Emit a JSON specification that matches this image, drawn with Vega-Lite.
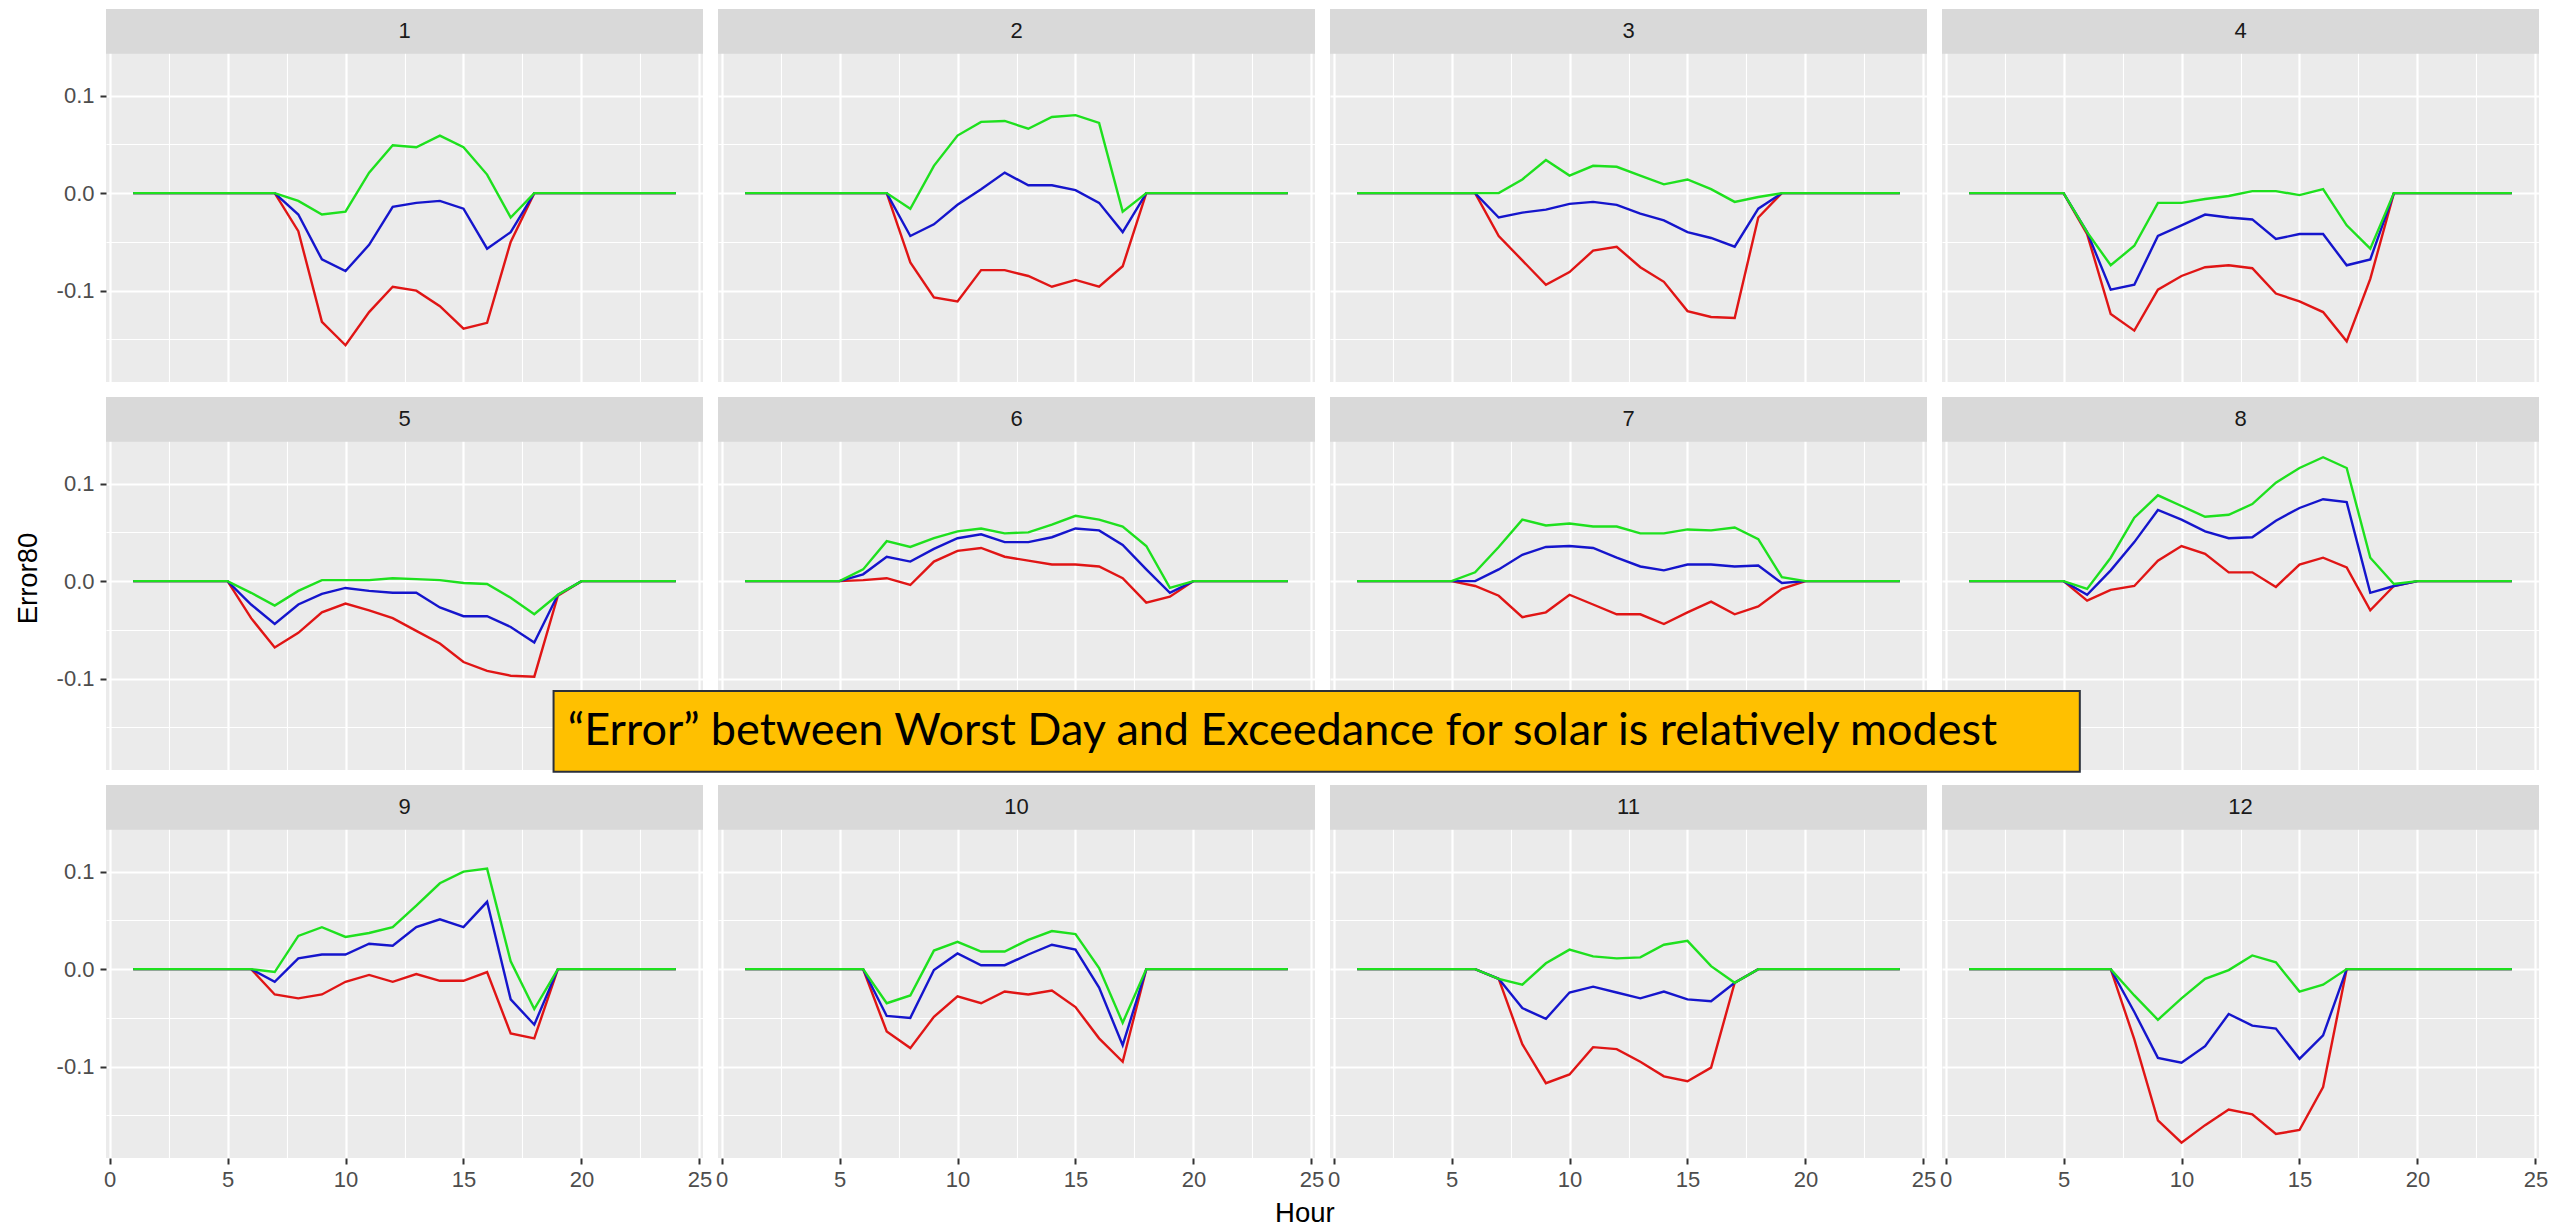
{
  "$schema": "https://vega.github.io/schema/vega-lite/v6.json",
  "padding": {"left": 14, "top": 9, "right": 0, "bottom": 0},
  "background": "white",
  "title": {"text": "Hour", "orient": "bottom", "anchor": "middle", "font": "Liberation Sans", "fontSize": 27.5, "fontWeight": "normal", "color": "#000000", "offset": 10, "dx": 24},
  "datasets": {
    "err": [
      {"m":1,"h":1,"r":0,"b":0,"g":0},{"m":1,"h":2,"r":0,"b":0,"g":0},{"m":1,"h":3,"r":0,"b":0,"g":0},{"m":1,"h":4,"r":0,"b":0,"g":0},{"m":1,"h":5,"r":0,"b":0,"g":0},{"m":1,"h":6,"r":0,"b":0,"g":0},{"m":1,"h":7,"r":0,"b":0,"g":0},
      {"m":1,"h":8,"r":-0.039,"b":-0.022,"g":-0.008},{"m":1,"h":9,"r":-0.132,"b":-0.068,"g":-0.022},{"m":1,"h":10,"r":-0.156,"b":-0.080,"g":-0.019},{"m":1,"h":11,"r":-0.122,"b":-0.053,"g":0.021},{"m":1,"h":12,"r":-0.096,"b":-0.014,"g":0.049},{"m":1,"h":13,"r":-0.100,"b":-0.010,"g":0.047},{"m":1,"h":14,"r":-0.116,"b":-0.008,"g":0.059},{"m":1,"h":15,"r":-0.139,"b":-0.016,"g":0.047},{"m":1,"h":16,"r":-0.133,"b":-0.057,"g":0.019},{"m":1,"h":17,"r":-0.050,"b":-0.040,"g":-0.025},
      {"m":1,"h":18,"r":0,"b":0,"g":0},{"m":1,"h":19,"r":0,"b":0,"g":0},{"m":1,"h":20,"r":0,"b":0,"g":0},{"m":1,"h":21,"r":0,"b":0,"g":0},{"m":1,"h":22,"r":0,"b":0,"g":0},{"m":1,"h":23,"r":0,"b":0,"g":0},{"m":1,"h":24,"r":0,"b":0,"g":0},

      {"m":2,"h":1,"r":0,"b":0,"g":0},{"m":2,"h":2,"r":0,"b":0,"g":0},{"m":2,"h":3,"r":0,"b":0,"g":0},{"m":2,"h":4,"r":0,"b":0,"g":0},{"m":2,"h":5,"r":0,"b":0,"g":0},{"m":2,"h":6,"r":0,"b":0,"g":0},{"m":2,"h":7,"r":0,"b":0,"g":0},
      {"m":2,"h":8,"r":-0.071,"b":-0.044,"g":-0.016},{"m":2,"h":9,"r":-0.107,"b":-0.032,"g":0.028},{"m":2,"h":10,"r":-0.111,"b":-0.012,"g":0.059},{"m":2,"h":11,"r":-0.079,"b":0.004,"g":0.073},{"m":2,"h":12,"r":-0.079,"b":0.021,"g":0.074},{"m":2,"h":13,"r":-0.085,"b":0.008,"g":0.066},{"m":2,"h":14,"r":-0.096,"b":0.008,"g":0.078},{"m":2,"h":15,"r":-0.089,"b":0.003,"g":0.080},{"m":2,"h":16,"r":-0.096,"b":-0.010,"g":0.072},{"m":2,"h":17,"r":-0.075,"b":-0.040,"g":-0.019},
      {"m":2,"h":18,"r":0,"b":0,"g":0},{"m":2,"h":19,"r":0,"b":0,"g":0},{"m":2,"h":20,"r":0,"b":0,"g":0},{"m":2,"h":21,"r":0,"b":0,"g":0},{"m":2,"h":22,"r":0,"b":0,"g":0},{"m":2,"h":23,"r":0,"b":0,"g":0},{"m":2,"h":24,"r":0,"b":0,"g":0},

      {"m":3,"h":1,"r":0,"b":0,"g":0},{"m":3,"h":2,"r":0,"b":0,"g":0},{"m":3,"h":3,"r":0,"b":0,"g":0},{"m":3,"h":4,"r":0,"b":0,"g":0},{"m":3,"h":5,"r":0,"b":0,"g":0},{"m":3,"h":6,"r":0,"b":0,"g":0},
      {"m":3,"h":7,"r":-0.044,"b":-0.025,"g":0},{"m":3,"h":8,"r":-0.069,"b":-0.020,"g":0.014},{"m":3,"h":9,"r":-0.094,"b":-0.017,"g":0.034},{"m":3,"h":10,"r":-0.081,"b":-0.011,"g":0.018},{"m":3,"h":11,"r":-0.059,"b":-0.009,"g":0.028},{"m":3,"h":12,"r":-0.055,"b":-0.012,"g":0.027},{"m":3,"h":13,"r":-0.076,"b":-0.021,"g":0.018},{"m":3,"h":14,"r":-0.091,"b":-0.028,"g":0.009},{"m":3,"h":15,"r":-0.121,"b":-0.040,"g":0.014},{"m":3,"h":16,"r":-0.127,"b":-0.046,"g":0.004},{"m":3,"h":17,"r":-0.128,"b":-0.055,"g":-0.009},{"m":3,"h":18,"r":-0.025,"b":-0.016,"g":-0.004},
      {"m":3,"h":19,"r":0,"b":0,"g":0},{"m":3,"h":20,"r":0,"b":0,"g":0},{"m":3,"h":21,"r":0,"b":0,"g":0},{"m":3,"h":22,"r":0,"b":0,"g":0},{"m":3,"h":23,"r":0,"b":0,"g":0},{"m":3,"h":24,"r":0,"b":0,"g":0},

      {"m":4,"h":1,"r":0,"b":0,"g":0},{"m":4,"h":2,"r":0,"b":0,"g":0},{"m":4,"h":3,"r":0,"b":0,"g":0},{"m":4,"h":4,"r":0,"b":0,"g":0},{"m":4,"h":5,"r":0,"b":0,"g":0},
      {"m":4,"h":6,"r":-0.042,"b":-0.040,"g":-0.040},{"m":4,"h":7,"r":-0.124,"b":-0.099,"g":-0.074},{"m":4,"h":8,"r":-0.141,"b":-0.094,"g":-0.054},{"m":4,"h":9,"r":-0.099,"b":-0.044,"g":-0.010},{"m":4,"h":10,"r":-0.085,"b":-0.033,"g":-0.010},{"m":4,"h":11,"r":-0.076,"b":-0.022,"g":-0.006},{"m":4,"h":12,"r":-0.074,"b":-0.025,"g":-0.003},{"m":4,"h":13,"r":-0.077,"b":-0.027,"g":0.002},{"m":4,"h":14,"r":-0.103,"b":-0.047,"g":0.002},{"m":4,"h":15,"r":-0.111,"b":-0.042,"g":-0.002},{"m":4,"h":16,"r":-0.122,"b":-0.042,"g":0.004},{"m":4,"h":17,"r":-0.152,"b":-0.074,"g":-0.033},{"m":4,"h":18,"r":-0.088,"b":-0.068,"g":-0.057},
      {"m":4,"h":19,"r":0,"b":0,"g":0},{"m":4,"h":20,"r":0,"b":0,"g":0},{"m":4,"h":21,"r":0,"b":0,"g":0},{"m":4,"h":22,"r":0,"b":0,"g":0},{"m":4,"h":23,"r":0,"b":0,"g":0},{"m":4,"h":24,"r":0,"b":0,"g":0},

      {"m":5,"h":1,"r":0,"b":0,"g":0},{"m":5,"h":2,"r":0,"b":0,"g":0},{"m":5,"h":3,"r":0,"b":0,"g":0},{"m":5,"h":4,"r":0,"b":0,"g":0},{"m":5,"h":5,"r":0,"b":0,"g":0},
      {"m":5,"h":6,"r":-0.038,"b":-0.024,"g":-0.012},{"m":5,"h":7,"r":-0.068,"b":-0.044,"g":-0.025},{"m":5,"h":8,"r":-0.053,"b":-0.024,"g":-0.010},{"m":5,"h":9,"r":-0.032,"b":-0.013,"g":0.001},{"m":5,"h":10,"r":-0.023,"b":-0.007,"g":0.001},{"m":5,"h":11,"r":-0.030,"b":-0.010,"g":0.001},{"m":5,"h":12,"r":-0.038,"b":-0.012,"g":0.003},{"m":5,"h":13,"r":-0.051,"b":-0.012,"g":0.002},{"m":5,"h":14,"r":-0.064,"b":-0.027,"g":0.001},{"m":5,"h":15,"r":-0.083,"b":-0.036,"g":-0.002},{"m":5,"h":16,"r":-0.092,"b":-0.036,"g":-0.003},{"m":5,"h":17,"r":-0.097,"b":-0.047,"g":-0.017},{"m":5,"h":18,"r":-0.098,"b":-0.063,"g":-0.034},{"m":5,"h":19,"r":-0.015,"b":-0.014,"g":-0.014},
      {"m":5,"h":20,"r":0,"b":0,"g":0},{"m":5,"h":21,"r":0,"b":0,"g":0},{"m":5,"h":22,"r":0,"b":0,"g":0},{"m":5,"h":23,"r":0,"b":0,"g":0},{"m":5,"h":24,"r":0,"b":0,"g":0},

      {"m":6,"h":1,"r":0,"b":0,"g":0},{"m":6,"h":2,"r":0,"b":0,"g":0},{"m":6,"h":3,"r":0,"b":0,"g":0},{"m":6,"h":4,"r":0,"b":0,"g":0},{"m":6,"h":5,"r":0,"b":0,"g":0},
      {"m":6,"h":6,"r":0.001,"b":0.007,"g":0.012},{"m":6,"h":7,"r":0.003,"b":0.025,"g":0.041},{"m":6,"h":8,"r":-0.004,"b":0.020,"g":0.035},{"m":6,"h":9,"r":0.020,"b":0.033,"g":0.044},{"m":6,"h":10,"r":0.031,"b":0.044,"g":0.051},{"m":6,"h":11,"r":0.034,"b":0.048,"g":0.054},{"m":6,"h":12,"r":0.025,"b":0.040,"g":0.049},{"m":6,"h":13,"r":0.021,"b":0.040,"g":0.050},{"m":6,"h":14,"r":0.017,"b":0.045,"g":0.058},{"m":6,"h":15,"r":0.017,"b":0.054,"g":0.067},{"m":6,"h":16,"r":0.015,"b":0.052,"g":0.063},{"m":6,"h":17,"r":0.003,"b":0.037,"g":0.056},{"m":6,"h":18,"r":-0.022,"b":0.012,"g":0.036},{"m":6,"h":19,"r":-0.016,"b":-0.012,"g":-0.007},
      {"m":6,"h":20,"r":0,"b":0,"g":0},{"m":6,"h":21,"r":0,"b":0,"g":0},{"m":6,"h":22,"r":0,"b":0,"g":0},{"m":6,"h":23,"r":0,"b":0,"g":0},{"m":6,"h":24,"r":0,"b":0,"g":0},

      {"m":7,"h":1,"r":0,"b":0,"g":0},{"m":7,"h":2,"r":0,"b":0,"g":0},{"m":7,"h":3,"r":0,"b":0,"g":0},{"m":7,"h":4,"r":0,"b":0,"g":0},{"m":7,"h":5,"r":0,"b":0,"g":0},
      {"m":7,"h":6,"r":-0.005,"b":0,"g":0.009},{"m":7,"h":7,"r":-0.015,"b":0.012,"g":0.035},{"m":7,"h":8,"r":-0.037,"b":0.027,"g":0.063},{"m":7,"h":9,"r":-0.032,"b":0.035,"g":0.057},{"m":7,"h":10,"r":-0.014,"b":0.036,"g":0.059},{"m":7,"h":11,"r":-0.024,"b":0.034,"g":0.056},{"m":7,"h":12,"r":-0.034,"b":0.024,"g":0.056},{"m":7,"h":13,"r":-0.034,"b":0.015,"g":0.049},{"m":7,"h":14,"r":-0.044,"b":0.011,"g":0.049},{"m":7,"h":15,"r":-0.032,"b":0.017,"g":0.053},{"m":7,"h":16,"r":-0.021,"b":0.017,"g":0.052},{"m":7,"h":17,"r":-0.034,"b":0.015,"g":0.055},{"m":7,"h":18,"r":-0.026,"b":0.016,"g":0.043},{"m":7,"h":19,"r":-0.008,"b":-0.002,"g":0.004},
      {"m":7,"h":20,"r":0,"b":0,"g":0},{"m":7,"h":21,"r":0,"b":0,"g":0},{"m":7,"h":22,"r":0,"b":0,"g":0},{"m":7,"h":23,"r":0,"b":0,"g":0},{"m":7,"h":24,"r":0,"b":0,"g":0},

      {"m":8,"h":1,"r":0,"b":0,"g":0},{"m":8,"h":2,"r":0,"b":0,"g":0},{"m":8,"h":3,"r":0,"b":0,"g":0},{"m":8,"h":4,"r":0,"b":0,"g":0},{"m":8,"h":5,"r":0,"b":0,"g":0},
      {"m":8,"h":6,"r":-0.020,"b":-0.014,"g":-0.008},{"m":8,"h":7,"r":-0.009,"b":0.011,"g":0.024},{"m":8,"h":8,"r":-0.005,"b":0.040,"g":0.065},{"m":8,"h":9,"r":0.021,"b":0.073,"g":0.088},{"m":8,"h":10,"r":0.036,"b":0.063,"g":0.077},{"m":8,"h":11,"r":0.028,"b":0.051,"g":0.066},{"m":8,"h":12,"r":0.009,"b":0.044,"g":0.068},{"m":8,"h":13,"r":0.009,"b":0.045,"g":0.079},{"m":8,"h":14,"r":-0.006,"b":0.062,"g":0.101},{"m":8,"h":15,"r":0.017,"b":0.075,"g":0.116},{"m":8,"h":16,"r":0.024,"b":0.084,"g":0.127},{"m":8,"h":17,"r":0.014,"b":0.081,"g":0.116},{"m":8,"h":18,"r":-0.030,"b":-0.012,"g":0.024},{"m":8,"h":19,"r":-0.005,"b":-0.005,"g":-0.003},
      {"m":8,"h":20,"r":0,"b":0,"g":0},{"m":8,"h":21,"r":0,"b":0,"g":0},{"m":8,"h":22,"r":0,"b":0,"g":0},{"m":8,"h":23,"r":0,"b":0,"g":0},{"m":8,"h":24,"r":0,"b":0,"g":0},

      {"m":9,"h":1,"r":0,"b":0,"g":0},{"m":9,"h":2,"r":0,"b":0,"g":0},{"m":9,"h":3,"r":0,"b":0,"g":0},{"m":9,"h":4,"r":0,"b":0,"g":0},{"m":9,"h":5,"r":0,"b":0,"g":0},{"m":9,"h":6,"r":0,"b":0,"g":0},
      {"m":9,"h":7,"r":-0.026,"b":-0.013,"g":-0.003},{"m":9,"h":8,"r":-0.030,"b":0.011,"g":0.034},{"m":9,"h":9,"r":-0.026,"b":0.015,"g":0.043},{"m":9,"h":10,"r":-0.013,"b":0.015,"g":0.033},{"m":9,"h":11,"r":-0.006,"b":0.026,"g":0.037},{"m":9,"h":12,"r":-0.013,"b":0.024,"g":0.043},{"m":9,"h":13,"r":-0.005,"b":0.043,"g":0.065},{"m":9,"h":14,"r":-0.012,"b":0.051,"g":0.088},{"m":9,"h":15,"r":-0.012,"b":0.043,"g":0.100},{"m":9,"h":16,"r":-0.003,"b":0.069,"g":0.103},{"m":9,"h":17,"r":-0.066,"b":-0.031,"g":0.008},{"m":9,"h":18,"r":-0.071,"b":-0.057,"g":-0.041},
      {"m":9,"h":19,"r":0,"b":0,"g":0},{"m":9,"h":20,"r":0,"b":0,"g":0},{"m":9,"h":21,"r":0,"b":0,"g":0},{"m":9,"h":22,"r":0,"b":0,"g":0},{"m":9,"h":23,"r":0,"b":0,"g":0},{"m":9,"h":24,"r":0,"b":0,"g":0},

      {"m":10,"h":1,"r":0,"b":0,"g":0},{"m":10,"h":2,"r":0,"b":0,"g":0},{"m":10,"h":3,"r":0,"b":0,"g":0},{"m":10,"h":4,"r":0,"b":0,"g":0},{"m":10,"h":5,"r":0,"b":0,"g":0},{"m":10,"h":6,"r":0,"b":0,"g":0},
      {"m":10,"h":7,"r":-0.064,"b":-0.048,"g":-0.035},{"m":10,"h":8,"r":-0.081,"b":-0.050,"g":-0.027},{"m":10,"h":9,"r":-0.049,"b":-0.001,"g":0.019},{"m":10,"h":10,"r":-0.028,"b":0.016,"g":0.028},{"m":10,"h":11,"r":-0.035,"b":0.004,"g":0.018},{"m":10,"h":12,"r":-0.023,"b":0.004,"g":0.018},{"m":10,"h":13,"r":-0.026,"b":0.015,"g":0.030},{"m":10,"h":14,"r":-0.022,"b":0.025,"g":0.039},{"m":10,"h":15,"r":-0.039,"b":0.020,"g":0.036},{"m":10,"h":16,"r":-0.071,"b":-0.019,"g":0.001},{"m":10,"h":17,"r":-0.095,"b":-0.078,"g":-0.055},
      {"m":10,"h":18,"r":0,"b":0,"g":0},{"m":10,"h":19,"r":0,"b":0,"g":0},{"m":10,"h":20,"r":0,"b":0,"g":0},{"m":10,"h":21,"r":0,"b":0,"g":0},{"m":10,"h":22,"r":0,"b":0,"g":0},{"m":10,"h":23,"r":0,"b":0,"g":0},{"m":10,"h":24,"r":0,"b":0,"g":0},

      {"m":11,"h":1,"r":0,"b":0,"g":0},{"m":11,"h":2,"r":0,"b":0,"g":0},{"m":11,"h":3,"r":0,"b":0,"g":0},{"m":11,"h":4,"r":0,"b":0,"g":0},{"m":11,"h":5,"r":0,"b":0,"g":0},{"m":11,"h":6,"r":0,"b":0,"g":0},
      {"m":11,"h":7,"r":-0.010,"b":-0.010,"g":-0.010},{"m":11,"h":8,"r":-0.077,"b":-0.040,"g":-0.016},{"m":11,"h":9,"r":-0.117,"b":-0.051,"g":0.006},{"m":11,"h":10,"r":-0.108,"b":-0.024,"g":0.020},{"m":11,"h":11,"r":-0.080,"b":-0.018,"g":0.013},{"m":11,"h":12,"r":-0.082,"b":-0.024,"g":0.011},{"m":11,"h":13,"r":-0.095,"b":-0.030,"g":0.012},{"m":11,"h":14,"r":-0.110,"b":-0.023,"g":0.025},{"m":11,"h":15,"r":-0.115,"b":-0.031,"g":0.029},{"m":11,"h":16,"r":-0.101,"b":-0.033,"g":0.003},{"m":11,"h":17,"r":-0.014,"b":-0.014,"g":-0.014},
      {"m":11,"h":18,"r":0,"b":0,"g":0},{"m":11,"h":19,"r":0,"b":0,"g":0},{"m":11,"h":20,"r":0,"b":0,"g":0},{"m":11,"h":21,"r":0,"b":0,"g":0},{"m":11,"h":22,"r":0,"b":0,"g":0},{"m":11,"h":23,"r":0,"b":0,"g":0},{"m":11,"h":24,"r":0,"b":0,"g":0},

      {"m":12,"h":1,"r":0,"b":0,"g":0},{"m":12,"h":2,"r":0,"b":0,"g":0},{"m":12,"h":3,"r":0,"b":0,"g":0},{"m":12,"h":4,"r":0,"b":0,"g":0},{"m":12,"h":5,"r":0,"b":0,"g":0},{"m":12,"h":6,"r":0,"b":0,"g":0},{"m":12,"h":7,"r":0,"b":0,"g":0},
      {"m":12,"h":8,"r":-0.072,"b":-0.044,"g":-0.027},{"m":12,"h":9,"r":-0.155,"b":-0.091,"g":-0.052},{"m":12,"h":10,"r":-0.178,"b":-0.096,"g":-0.030},{"m":12,"h":11,"r":-0.160,"b":-0.079,"g":-0.010},{"m":12,"h":12,"r":-0.144,"b":-0.046,"g":-0.001},{"m":12,"h":13,"r":-0.149,"b":-0.058,"g":0.014},{"m":12,"h":14,"r":-0.169,"b":-0.061,"g":0.007},{"m":12,"h":15,"r":-0.165,"b":-0.092,"g":-0.023},{"m":12,"h":16,"r":-0.121,"b":-0.068,"g":-0.016},
      {"m":12,"h":17,"r":0,"b":0,"g":0},{"m":12,"h":18,"r":0,"b":0,"g":0},{"m":12,"h":19,"r":0,"b":0,"g":0},{"m":12,"h":20,"r":0,"b":0,"g":0},{"m":12,"h":21,"r":0,"b":0,"g":0},{"m":12,"h":22,"r":0,"b":0,"g":0},{"m":12,"h":23,"r":0,"b":0,"g":0},{"m":12,"h":24,"r":0,"b":0,"g":0}
    ]
  },
  "data": {"name": "err"},
  "columns": 4,
  "spacing": {"row": 15, "column": 15},
  "bounds": "flush",
  "concat": [
    {"width":597,"height":373,"transform":[{"filter":"datum.m==1"}],"layer":[
      {"transform":[{"fold":["r","b","g"],"as":["s","v"]}],"mark":{"type":"line"},"encoding":{
        "x":{"field":"h","type":"quantitative","scale":{"domain":[-0.15,25.15],"nice":false,"zero":false},"axis":{"values":[0,2.5,5,7.5,10,12.5,15,17.5,20,22.5,25],"labels":false,"ticks":false,"title":null,"gridWidth":{"condition":{"test":"datum.value % 5 === 0","value":2.2},"value":1.1}}},
        "y":{"field":"v","type":"quantitative","scale":{"domain":[-0.1937,0.1888],"nice":false,"zero":false},"axis":{"values":[-0.15,-0.1,-0.05,0,0.05,0.1],"title":null,"gridWidth":{"condition":{"test":"round(abs(datum.value)*100) % 10 === 0","value":2.2},"value":1.1},"tickOpacity":{"condition":{"test":"round(abs(datum.value)*100) % 10 === 0","value":1},"value":0},"labelExpr":"round(abs(datum.value)*100) % 10 === 0 ? replace(format(datum.value, '.1f'), '−', '-') : ''"}},
        "color":{"field":"s","type":"nominal","scale":{"domain":["r","b","g"],"range":["#E01515","#1515CC","#1EE01E"]},"legend":null}}},
      {"transform":[{"filter":"datum.h==1"}],"mark":{"type":"rect","fill":"#D9D9D9"},"encoding":{"x":{"datum":-0.15,"type":"quantitative"},"x2":{"datum":25.15},"y":{"datum":0.1428,"type":"quantitative"},"y2":{"datum":0.1888}}},
      {"transform":[{"filter":"datum.h==1"}],"mark":{"type":"text","font":"Liberation Sans","fontSize":22,"color":"#1A1A1A","baseline":"middle","align":"center"},"encoding":{"x":{"datum":12.5,"type":"quantitative"},"y":{"datum":0.1658,"type":"quantitative"},"text":{"field":"m","type":"nominal"}}}
    ]},
    {"width":597,"height":373,"transform":[{"filter":"datum.m==2"}],"layer":[
      {"transform":[{"fold":["r","b","g"],"as":["s","v"]}],"mark":{"type":"line"},"encoding":{
        "x":{"field":"h","type":"quantitative","scale":{"domain":[-0.15,25.15],"nice":false,"zero":false},"axis":{"values":[0,2.5,5,7.5,10,12.5,15,17.5,20,22.5,25],"labels":false,"ticks":false,"title":null,"gridWidth":{"condition":{"test":"datum.value % 5 === 0","value":2.2},"value":1.1}}},
        "y":{"field":"v","type":"quantitative","scale":{"domain":[-0.1937,0.1888],"nice":false,"zero":false},"axis":{"values":[-0.15,-0.1,-0.05,0,0.05,0.1],"labels":false,"ticks":false,"title":null,"gridWidth":{"condition":{"test":"round(abs(datum.value)*100) % 10 === 0","value":2.2},"value":1.1}}},
        "color":{"field":"s","type":"nominal","scale":{"domain":["r","b","g"],"range":["#E01515","#1515CC","#1EE01E"]},"legend":null}}},
      {"transform":[{"filter":"datum.h==1"}],"mark":{"type":"rect","fill":"#D9D9D9"},"encoding":{"x":{"datum":-0.15,"type":"quantitative"},"x2":{"datum":25.15},"y":{"datum":0.1428,"type":"quantitative"},"y2":{"datum":0.1888}}},
      {"transform":[{"filter":"datum.h==1"}],"mark":{"type":"text","font":"Liberation Sans","fontSize":22,"color":"#1A1A1A","baseline":"middle","align":"center"},"encoding":{"x":{"datum":12.5,"type":"quantitative"},"y":{"datum":0.1658,"type":"quantitative"},"text":{"field":"m","type":"nominal"}}}
    ]},
    {"width":597,"height":373,"transform":[{"filter":"datum.m==3"}],"layer":[
      {"transform":[{"fold":["r","b","g"],"as":["s","v"]}],"mark":{"type":"line"},"encoding":{
        "x":{"field":"h","type":"quantitative","scale":{"domain":[-0.15,25.15],"nice":false,"zero":false},"axis":{"values":[0,2.5,5,7.5,10,12.5,15,17.5,20,22.5,25],"labels":false,"ticks":false,"title":null,"gridWidth":{"condition":{"test":"datum.value % 5 === 0","value":2.2},"value":1.1}}},
        "y":{"field":"v","type":"quantitative","scale":{"domain":[-0.1937,0.1888],"nice":false,"zero":false},"axis":{"values":[-0.15,-0.1,-0.05,0,0.05,0.1],"labels":false,"ticks":false,"title":null,"gridWidth":{"condition":{"test":"round(abs(datum.value)*100) % 10 === 0","value":2.2},"value":1.1}}},
        "color":{"field":"s","type":"nominal","scale":{"domain":["r","b","g"],"range":["#E01515","#1515CC","#1EE01E"]},"legend":null}}},
      {"transform":[{"filter":"datum.h==1"}],"mark":{"type":"rect","fill":"#D9D9D9"},"encoding":{"x":{"datum":-0.15,"type":"quantitative"},"x2":{"datum":25.15},"y":{"datum":0.1428,"type":"quantitative"},"y2":{"datum":0.1888}}},
      {"transform":[{"filter":"datum.h==1"}],"mark":{"type":"text","font":"Liberation Sans","fontSize":22,"color":"#1A1A1A","baseline":"middle","align":"center"},"encoding":{"x":{"datum":12.5,"type":"quantitative"},"y":{"datum":0.1658,"type":"quantitative"},"text":{"field":"m","type":"nominal"}}}
    ]},
    {"width":597,"height":373,"transform":[{"filter":"datum.m==4"}],"layer":[
      {"transform":[{"fold":["r","b","g"],"as":["s","v"]}],"mark":{"type":"line"},"encoding":{
        "x":{"field":"h","type":"quantitative","scale":{"domain":[-0.15,25.15],"nice":false,"zero":false},"axis":{"values":[0,2.5,5,7.5,10,12.5,15,17.5,20,22.5,25],"labels":false,"ticks":false,"title":null,"gridWidth":{"condition":{"test":"datum.value % 5 === 0","value":2.2},"value":1.1}}},
        "y":{"field":"v","type":"quantitative","scale":{"domain":[-0.1937,0.1888],"nice":false,"zero":false},"axis":{"values":[-0.15,-0.1,-0.05,0,0.05,0.1],"labels":false,"ticks":false,"title":null,"gridWidth":{"condition":{"test":"round(abs(datum.value)*100) % 10 === 0","value":2.2},"value":1.1}}},
        "color":{"field":"s","type":"nominal","scale":{"domain":["r","b","g"],"range":["#E01515","#1515CC","#1EE01E"]},"legend":null}}},
      {"transform":[{"filter":"datum.h==1"}],"mark":{"type":"rect","fill":"#D9D9D9"},"encoding":{"x":{"datum":-0.15,"type":"quantitative"},"x2":{"datum":25.15},"y":{"datum":0.1428,"type":"quantitative"},"y2":{"datum":0.1888}}},
      {"transform":[{"filter":"datum.h==1"}],"mark":{"type":"text","font":"Liberation Sans","fontSize":22,"color":"#1A1A1A","baseline":"middle","align":"center"},"encoding":{"x":{"datum":12.5,"type":"quantitative"},"y":{"datum":0.1658,"type":"quantitative"},"text":{"field":"m","type":"nominal"}}}
    ]},
    {"width":597,"height":373,"transform":[{"filter":"datum.m==5"}],"layer":[
      {"transform":[{"fold":["r","b","g"],"as":["s","v"]}],"mark":{"type":"line"},"encoding":{
        "x":{"field":"h","type":"quantitative","scale":{"domain":[-0.15,25.15],"nice":false,"zero":false},"axis":{"values":[0,2.5,5,7.5,10,12.5,15,17.5,20,22.5,25],"labels":false,"ticks":false,"title":null,"gridWidth":{"condition":{"test":"datum.value % 5 === 0","value":2.2},"value":1.1}}},
        "y":{"field":"v","type":"quantitative","scale":{"domain":[-0.1937,0.1888],"nice":false,"zero":false},"axis":{"values":[-0.15,-0.1,-0.05,0,0.05,0.1],"title":"Error80","titleY":181,"titlePadding":14,"gridWidth":{"condition":{"test":"round(abs(datum.value)*100) % 10 === 0","value":2.2},"value":1.1},"tickOpacity":{"condition":{"test":"round(abs(datum.value)*100) % 10 === 0","value":1},"value":0},"labelExpr":"round(abs(datum.value)*100) % 10 === 0 ? replace(format(datum.value, '.1f'), '−', '-') : ''"}},
        "color":{"field":"s","type":"nominal","scale":{"domain":["r","b","g"],"range":["#E01515","#1515CC","#1EE01E"]},"legend":null}}},
      {"transform":[{"filter":"datum.h==1"}],"mark":{"type":"rect","fill":"#D9D9D9"},"encoding":{"x":{"datum":-0.15,"type":"quantitative"},"x2":{"datum":25.15},"y":{"datum":0.1428,"type":"quantitative"},"y2":{"datum":0.1888}}},
      {"transform":[{"filter":"datum.h==1"}],"mark":{"type":"text","font":"Liberation Sans","fontSize":22,"color":"#1A1A1A","baseline":"middle","align":"center"},"encoding":{"x":{"datum":12.5,"type":"quantitative"},"y":{"datum":0.1658,"type":"quantitative"},"text":{"field":"m","type":"nominal"}}}
    ]},
    {"width":597,"height":373,"transform":[{"filter":"datum.m==6"}],"layer":[
      {"transform":[{"fold":["r","b","g"],"as":["s","v"]}],"mark":{"type":"line"},"encoding":{
        "x":{"field":"h","type":"quantitative","scale":{"domain":[-0.15,25.15],"nice":false,"zero":false},"axis":{"values":[0,2.5,5,7.5,10,12.5,15,17.5,20,22.5,25],"labels":false,"ticks":false,"title":null,"gridWidth":{"condition":{"test":"datum.value % 5 === 0","value":2.2},"value":1.1}}},
        "y":{"field":"v","type":"quantitative","scale":{"domain":[-0.1937,0.1888],"nice":false,"zero":false},"axis":{"values":[-0.15,-0.1,-0.05,0,0.05,0.1],"labels":false,"ticks":false,"title":null,"gridWidth":{"condition":{"test":"round(abs(datum.value)*100) % 10 === 0","value":2.2},"value":1.1}}},
        "color":{"field":"s","type":"nominal","scale":{"domain":["r","b","g"],"range":["#E01515","#1515CC","#1EE01E"]},"legend":null}}},
      {"transform":[{"filter":"datum.h==1"}],"mark":{"type":"rect","fill":"#D9D9D9"},"encoding":{"x":{"datum":-0.15,"type":"quantitative"},"x2":{"datum":25.15},"y":{"datum":0.1428,"type":"quantitative"},"y2":{"datum":0.1888}}},
      {"transform":[{"filter":"datum.h==1"}],"mark":{"type":"text","font":"Liberation Sans","fontSize":22,"color":"#1A1A1A","baseline":"middle","align":"center"},"encoding":{"x":{"datum":12.5,"type":"quantitative"},"y":{"datum":0.1658,"type":"quantitative"},"text":{"field":"m","type":"nominal"}}}
    ]},
    {"width":597,"height":373,"transform":[{"filter":"datum.m==7"}],"layer":[
      {"transform":[{"fold":["r","b","g"],"as":["s","v"]}],"mark":{"type":"line"},"encoding":{
        "x":{"field":"h","type":"quantitative","scale":{"domain":[-0.15,25.15],"nice":false,"zero":false},"axis":{"values":[0,2.5,5,7.5,10,12.5,15,17.5,20,22.5,25],"labels":false,"ticks":false,"title":null,"gridWidth":{"condition":{"test":"datum.value % 5 === 0","value":2.2},"value":1.1}}},
        "y":{"field":"v","type":"quantitative","scale":{"domain":[-0.1937,0.1888],"nice":false,"zero":false},"axis":{"values":[-0.15,-0.1,-0.05,0,0.05,0.1],"labels":false,"ticks":false,"title":null,"gridWidth":{"condition":{"test":"round(abs(datum.value)*100) % 10 === 0","value":2.2},"value":1.1}}},
        "color":{"field":"s","type":"nominal","scale":{"domain":["r","b","g"],"range":["#E01515","#1515CC","#1EE01E"]},"legend":null}}},
      {"transform":[{"filter":"datum.h==1"}],"mark":{"type":"rect","fill":"#D9D9D9"},"encoding":{"x":{"datum":-0.15,"type":"quantitative"},"x2":{"datum":25.15},"y":{"datum":0.1428,"type":"quantitative"},"y2":{"datum":0.1888}}},
      {"transform":[{"filter":"datum.h==1"}],"mark":{"type":"text","font":"Liberation Sans","fontSize":22,"color":"#1A1A1A","baseline":"middle","align":"center"},"encoding":{"x":{"datum":12.5,"type":"quantitative"},"y":{"datum":0.1658,"type":"quantitative"},"text":{"field":"m","type":"nominal"}}}
    ]},
    {"width":597,"height":373,"transform":[{"filter":"datum.m==8"}],"layer":[
      {"transform":[{"fold":["r","b","g"],"as":["s","v"]}],"mark":{"type":"line"},"encoding":{
        "x":{"field":"h","type":"quantitative","scale":{"domain":[-0.15,25.15],"nice":false,"zero":false},"axis":{"values":[0,2.5,5,7.5,10,12.5,15,17.5,20,22.5,25],"labels":false,"ticks":false,"title":null,"gridWidth":{"condition":{"test":"datum.value % 5 === 0","value":2.2},"value":1.1}}},
        "y":{"field":"v","type":"quantitative","scale":{"domain":[-0.1937,0.1888],"nice":false,"zero":false},"axis":{"values":[-0.15,-0.1,-0.05,0,0.05,0.1],"labels":false,"ticks":false,"title":null,"gridWidth":{"condition":{"test":"round(abs(datum.value)*100) % 10 === 0","value":2.2},"value":1.1}}},
        "color":{"field":"s","type":"nominal","scale":{"domain":["r","b","g"],"range":["#E01515","#1515CC","#1EE01E"]},"legend":null}}},
      {"transform":[{"filter":"datum.h==1"}],"mark":{"type":"rect","fill":"#D9D9D9"},"encoding":{"x":{"datum":-0.15,"type":"quantitative"},"x2":{"datum":25.15},"y":{"datum":0.1428,"type":"quantitative"},"y2":{"datum":0.1888}}},
      {"transform":[{"filter":"datum.h==1"}],"mark":{"type":"text","font":"Liberation Sans","fontSize":22,"color":"#1A1A1A","baseline":"middle","align":"center"},"encoding":{"x":{"datum":12.5,"type":"quantitative"},"y":{"datum":0.1658,"type":"quantitative"},"text":{"field":"m","type":"nominal"}}},
      {"transform":[{"filter":"datum.h==1"}],"mark":{"type":"rect","fill":"#FFC000","stroke":"#2A2F3A","strokeWidth":2},"encoding":{"x":{"datum":-58.99,"type":"quantitative"},"x2":{"datum":5.69},"y":{"datum":-0.1126,"type":"quantitative"},"y2":{"datum":-0.1956}}},
      {"transform":[{"filter":"datum.h==1"}],"mark":{"type":"text","font":"Lato","fontSize":45,"color":"#000000","baseline":"middle","align":"center"},"encoding":{"x":{"datum":-28.1,"type":"quantitative"},"y":{"datum":-0.1541,"type":"quantitative"},"text":{"value":"“Error” between Worst Day and Exceedance for solar is relatively modest"}}}
    ]},
    {"width":597,"height":373,"transform":[{"filter":"datum.m==9"}],"layer":[
      {"transform":[{"fold":["r","b","g"],"as":["s","v"]}],"mark":{"type":"line"},"encoding":{
        "x":{"field":"h","type":"quantitative","scale":{"domain":[-0.15,25.15],"nice":false,"zero":false},"axis":{"values":[0,2.5,5,7.5,10,12.5,15,17.5,20,22.5,25],"title":null,"gridWidth":{"condition":{"test":"datum.value % 5 === 0","value":2.2},"value":1.1},"tickOpacity":{"condition":{"test":"datum.value % 5 === 0","value":1},"value":0},"labelExpr":"datum.value % 5 === 0 ? format(datum.value, 'd') : ''"}},
        "y":{"field":"v","type":"quantitative","scale":{"domain":[-0.1937,0.1888],"nice":false,"zero":false},"axis":{"values":[-0.15,-0.1,-0.05,0,0.05,0.1],"title":null,"gridWidth":{"condition":{"test":"round(abs(datum.value)*100) % 10 === 0","value":2.2},"value":1.1},"tickOpacity":{"condition":{"test":"round(abs(datum.value)*100) % 10 === 0","value":1},"value":0},"labelExpr":"round(abs(datum.value)*100) % 10 === 0 ? replace(format(datum.value, '.1f'), '−', '-') : ''"}},
        "color":{"field":"s","type":"nominal","scale":{"domain":["r","b","g"],"range":["#E01515","#1515CC","#1EE01E"]},"legend":null}}},
      {"transform":[{"filter":"datum.h==1"}],"mark":{"type":"rect","fill":"#D9D9D9"},"encoding":{"x":{"datum":-0.15,"type":"quantitative"},"x2":{"datum":25.15},"y":{"datum":0.1428,"type":"quantitative"},"y2":{"datum":0.1888}}},
      {"transform":[{"filter":"datum.h==1"}],"mark":{"type":"text","font":"Liberation Sans","fontSize":22,"color":"#1A1A1A","baseline":"middle","align":"center"},"encoding":{"x":{"datum":12.5,"type":"quantitative"},"y":{"datum":0.1658,"type":"quantitative"},"text":{"field":"m","type":"nominal"}}}
    ]},
    {"width":597,"height":373,"transform":[{"filter":"datum.m==10"}],"layer":[
      {"transform":[{"fold":["r","b","g"],"as":["s","v"]}],"mark":{"type":"line"},"encoding":{
        "x":{"field":"h","type":"quantitative","scale":{"domain":[-0.15,25.15],"nice":false,"zero":false},"axis":{"values":[0,2.5,5,7.5,10,12.5,15,17.5,20,22.5,25],"title":null,"gridWidth":{"condition":{"test":"datum.value % 5 === 0","value":2.2},"value":1.1},"tickOpacity":{"condition":{"test":"datum.value % 5 === 0","value":1},"value":0},"labelExpr":"datum.value % 5 === 0 ? format(datum.value, 'd') : ''"}},
        "y":{"field":"v","type":"quantitative","scale":{"domain":[-0.1937,0.1888],"nice":false,"zero":false},"axis":{"values":[-0.15,-0.1,-0.05,0,0.05,0.1],"labels":false,"ticks":false,"title":null,"gridWidth":{"condition":{"test":"round(abs(datum.value)*100) % 10 === 0","value":2.2},"value":1.1}}},
        "color":{"field":"s","type":"nominal","scale":{"domain":["r","b","g"],"range":["#E01515","#1515CC","#1EE01E"]},"legend":null}}},
      {"transform":[{"filter":"datum.h==1"}],"mark":{"type":"rect","fill":"#D9D9D9"},"encoding":{"x":{"datum":-0.15,"type":"quantitative"},"x2":{"datum":25.15},"y":{"datum":0.1428,"type":"quantitative"},"y2":{"datum":0.1888}}},
      {"transform":[{"filter":"datum.h==1"}],"mark":{"type":"text","font":"Liberation Sans","fontSize":22,"color":"#1A1A1A","baseline":"middle","align":"center"},"encoding":{"x":{"datum":12.5,"type":"quantitative"},"y":{"datum":0.1658,"type":"quantitative"},"text":{"field":"m","type":"nominal"}}}
    ]},
    {"width":597,"height":373,"transform":[{"filter":"datum.m==11"}],"layer":[
      {"transform":[{"fold":["r","b","g"],"as":["s","v"]}],"mark":{"type":"line"},"encoding":{
        "x":{"field":"h","type":"quantitative","scale":{"domain":[-0.15,25.15],"nice":false,"zero":false},"axis":{"values":[0,2.5,5,7.5,10,12.5,15,17.5,20,22.5,25],"title":null,"gridWidth":{"condition":{"test":"datum.value % 5 === 0","value":2.2},"value":1.1},"tickOpacity":{"condition":{"test":"datum.value % 5 === 0","value":1},"value":0},"labelExpr":"datum.value % 5 === 0 ? format(datum.value, 'd') : ''"}},
        "y":{"field":"v","type":"quantitative","scale":{"domain":[-0.1937,0.1888],"nice":false,"zero":false},"axis":{"values":[-0.15,-0.1,-0.05,0,0.05,0.1],"labels":false,"ticks":false,"title":null,"gridWidth":{"condition":{"test":"round(abs(datum.value)*100) % 10 === 0","value":2.2},"value":1.1}}},
        "color":{"field":"s","type":"nominal","scale":{"domain":["r","b","g"],"range":["#E01515","#1515CC","#1EE01E"]},"legend":null}}},
      {"transform":[{"filter":"datum.h==1"}],"mark":{"type":"rect","fill":"#D9D9D9"},"encoding":{"x":{"datum":-0.15,"type":"quantitative"},"x2":{"datum":25.15},"y":{"datum":0.1428,"type":"quantitative"},"y2":{"datum":0.1888}}},
      {"transform":[{"filter":"datum.h==1"}],"mark":{"type":"text","font":"Liberation Sans","fontSize":22,"color":"#1A1A1A","baseline":"middle","align":"center"},"encoding":{"x":{"datum":12.5,"type":"quantitative"},"y":{"datum":0.1658,"type":"quantitative"},"text":{"field":"m","type":"nominal"}}}
    ]},
    {"width":597,"height":373,"transform":[{"filter":"datum.m==12"}],"layer":[
      {"transform":[{"fold":["r","b","g"],"as":["s","v"]}],"mark":{"type":"line"},"encoding":{
        "x":{"field":"h","type":"quantitative","scale":{"domain":[-0.15,25.15],"nice":false,"zero":false},"axis":{"values":[0,2.5,5,7.5,10,12.5,15,17.5,20,22.5,25],"title":null,"gridWidth":{"condition":{"test":"datum.value % 5 === 0","value":2.2},"value":1.1},"tickOpacity":{"condition":{"test":"datum.value % 5 === 0","value":1},"value":0},"labelExpr":"datum.value % 5 === 0 ? format(datum.value, 'd') : ''"}},
        "y":{"field":"v","type":"quantitative","scale":{"domain":[-0.1937,0.1888],"nice":false,"zero":false},"axis":{"values":[-0.15,-0.1,-0.05,0,0.05,0.1],"labels":false,"ticks":false,"title":null,"gridWidth":{"condition":{"test":"round(abs(datum.value)*100) % 10 === 0","value":2.2},"value":1.1}}},
        "color":{"field":"s","type":"nominal","scale":{"domain":["r","b","g"],"range":["#E01515","#1515CC","#1EE01E"]},"legend":null}}},
      {"transform":[{"filter":"datum.h==1"}],"mark":{"type":"rect","fill":"#D9D9D9"},"encoding":{"x":{"datum":-0.15,"type":"quantitative"},"x2":{"datum":25.15},"y":{"datum":0.1428,"type":"quantitative"},"y2":{"datum":0.1888}}},
      {"transform":[{"filter":"datum.h==1"}],"mark":{"type":"text","font":"Liberation Sans","fontSize":22,"color":"#1A1A1A","baseline":"middle","align":"center"},"encoding":{"x":{"datum":12.5,"type":"quantitative"},"y":{"datum":0.1658,"type":"quantitative"},"text":{"field":"m","type":"nominal"}}}
    ]}
  ],
  "config": {
    "view": {"fill": "#EBEBEB", "stroke": null},
    "axis": {"domain": false, "gridColor": "#FFFFFF", "gridOpacity": 1, "tickColor": "#333333", "tickWidth": 2, "tickSize": 6, "labelFont": "Liberation Sans", "labelFontSize": 22, "labelColor": "#4D4D4D", "labelFlush": false, "labelOverlap": false, "titleFont": "Liberation Sans", "titleFontSize": 27.5, "titleFontWeight": "normal", "titleColor": "#000000"},
    "axisX": {"labelPadding": 5},
    "axisY": {"labelPadding": 6},
    "line": {"strokeWidth": 2.4}
  }
}
